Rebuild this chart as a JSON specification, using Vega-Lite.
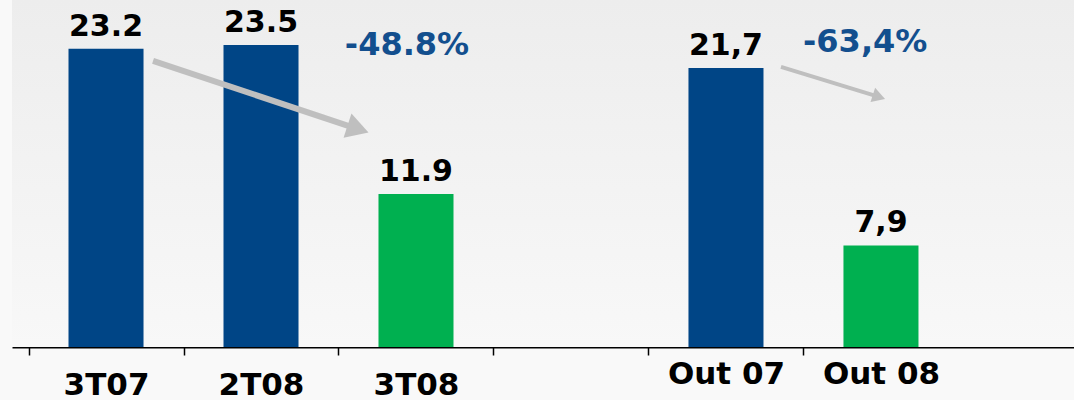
{
  "$schema": "https://vega.github.io/schema/vega-lite/v6.json",
  "width": 1062,
  "height": 347,
  "padding": {"left": 12, "top": 0, "right": 0, "bottom": 0},
  "autosize": {"type": "pad"},
  "background": "#F9F9F9",
  "config": {"view": {"stroke": null}, "font": "DejaVu Sans"},
  "datasets": {
    "barras": [
      {"periodo": "3T07", "valor": 23.2, "rotulo": "23.2", "tipo": "anterior"},
      {"periodo": "2T08", "valor": 23.5, "rotulo": "23.5", "tipo": "anterior"},
      {"periodo": "3T08", "valor": 11.9, "rotulo": "11.9", "tipo": "atual"},
      {"periodo": "Out 07", "valor": 21.7, "rotulo": "21,7", "tipo": "anterior"},
      {"periodo": "Out 08", "valor": 7.9, "rotulo": "7,9", "tipo": "atual"}
    ],
    "variacoes": [
      {"periodo": "3T08", "nivel": 22.72, "texto": "-48.8%"},
      {"periodo": "Out 08", "nivel": 22.96, "texto": "-63,4%"}
    ],
    "setas": [
      {"seta": "trimestre", "de": "3T07", "para": "3T08", "inicio": 22.26, "fim": 16.96},
      {"seta": "mes", "de": "Out 07", "para": "Out 08", "inicio": 21.79, "fim": 19.46}
    ]
  },
  "data": {"name": "barras"},
  "layer": [
    {
      "data": {"values": [{}]},
      "mark": {
        "type": "rect",
        "fill": {"gradient": "linear", "x1": 0, "y1": 0, "x2": 0, "y2": 1,
          "stops": [{"offset": 0, "color": "#EDEDED"}, {"offset": 1, "color": "#F8F8F8"}]}
      },
      "encoding": {"x": {"value": 0}, "x2": {"value": "width"}, "y": {"value": 0}, "y2": {"value": "height"}}
    },
    {
      "mark": {"type": "bar"},
      "encoding": {
        "x": {
          "field": "periodo", "type": "nominal", "sort": null,
          "scale": {"domain": ["3T07", "2T08", "3T08", "gap", "Out 07", "Out 08"], "paddingInner": 0.516, "paddingOuter": 0.684, "align": 0.2665},
          "axis": {
            "title": null, "labelAngle": 0, "domainColor": "#000000", "domainWidth": 2,
            "tickColor": "#000000", "tickWidth": 1.5, "tickSize": 8, "tickOffset": -77.5, "labelOffset": 77.5,
            "labelFontSize": 31, "labelFontWeight": "bold", "labelColor": "#000000",
            "labelPadding": {"condition": {"test": "indexof(['Out 07','Out 08'], datum.value) >= 0", "value": 4}, "value": 15},
            "labelExpr": "datum.value == 'gap' ? '' : datum.value"
          }
        },
        "y": {"field": "valor", "type": "quantitative", "scale": {"domain": [0, 27], "nice": false}, "axis": null},
        "color": {"field": "tipo", "type": "nominal", "scale": {"domain": ["anterior", "atual"], "range": ["#004586", "#00B050"]}, "legend": null}
      }
    },
    {
      "mark": {"type": "text", "baseline": "alphabetic", "dy": -13, "fontSize": 30, "fontWeight": "bold", "color": "#000000"},
      "encoding": {
        "x": {"field": "periodo", "type": "nominal", "sort": null},
        "y": {"field": "valor", "type": "quantitative"},
        "text": {"field": "rotulo"}
      }
    },
    {
      "data": {"name": "variacoes"},
      "transform": [{"filter": "datum.periodo == '3T08'"}],
      "mark": {"type": "text", "baseline": "alphabetic", "fontSize": 32, "fontWeight": "bold", "color": "#134F8E"},
      "encoding": {
        "x": {"field": "periodo", "type": "nominal", "bandPosition": 0.38},
        "y": {"field": "nivel", "type": "quantitative"},
        "text": {"field": "texto"}
      }
    },
    {
      "data": {"name": "variacoes"},
      "transform": [{"filter": "datum.periodo == 'Out 08'"}],
      "mark": {"type": "text", "baseline": "alphabetic", "fontSize": 32, "fontWeight": "bold", "color": "#134F8E"},
      "encoding": {
        "x": {"field": "periodo", "type": "nominal", "bandPosition": 0.29},
        "y": {"field": "nivel", "type": "quantitative"},
        "text": {"field": "texto"}
      }
    },
    {
      "data": {"name": "setas"},
      "transform": [{"filter": "datum.seta == 'trimestre'"}],
      "mark": {"type": "rule", "color": "#BFBFBF", "strokeWidth": 6},
      "encoding": {
        "x": {"field": "de", "type": "nominal", "bandPosition": 1.127},
        "x2": {"field": "para", "bandPosition": -0.273},
        "y": {"field": "inicio", "type": "quantitative"},
        "y2": {"field": "fim"}
      }
    },
    {
      "data": {"name": "setas"},
      "transform": [{"filter": "datum.seta == 'trimestre'"}],
      "mark": {"type": "point", "shape": "triangle-right", "filled": true, "opacity": 1, "color": "#BFBFBF", "size": 650, "angle": 18},
      "encoding": {
        "x": {"field": "para", "type": "nominal", "bandPosition": -0.273},
        "y": {"field": "fim", "type": "quantitative"}
      }
    },
    {
      "data": {"name": "setas"},
      "transform": [{"filter": "datum.seta == 'mes'"}],
      "mark": {"type": "rule", "color": "#BFBFBF", "strokeWidth": 4},
      "encoding": {
        "x": {"field": "de", "type": "nominal", "bandPosition": 1.233},
        "x2": {"field": "para", "bandPosition": 0.473},
        "y": {"field": "inicio", "type": "quantitative"},
        "y2": {"field": "fim"}
      }
    },
    {
      "data": {"name": "setas"},
      "transform": [{"filter": "datum.seta == 'mes'"}],
      "mark": {"type": "point", "shape": "triangle-right", "filled": true, "opacity": 1, "color": "#BFBFBF", "size": 220, "angle": 18},
      "encoding": {
        "x": {"field": "para", "type": "nominal", "bandPosition": 0.473},
        "y": {"field": "fim", "type": "quantitative"}
      }
    }
  ]
}
